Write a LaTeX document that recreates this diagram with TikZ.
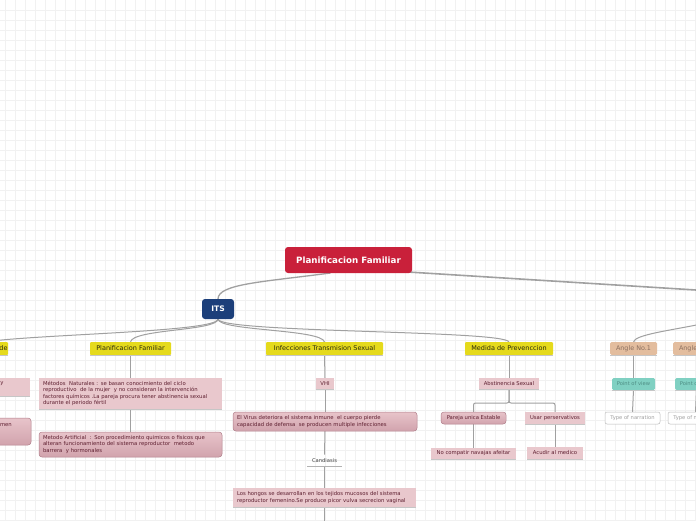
\documentclass[tikz,border=0pt]{standalone}
\usepackage{fontspec}
\setmainfont{DejaVu Sans}
\usetikzlibrary{calc}
\definecolor{gridc}{HTML}{F1F1F1}
\definecolor{rootred}{HTML}{C9203A}
\definecolor{itsblue}{HTML}{1C3F7A}
\definecolor{yelf}{HTML}{E5DA1C}
\definecolor{yelt}{HTML}{2A2A0C}
\definecolor{pinkf}{HTML}{E9C8CD}
\definecolor{pinkt}{HTML}{5E1F30}
\definecolor{dpinktop}{HTML}{E8C4CA}
\definecolor{dpinkbot}{HTML}{D1A3AD}
\definecolor{dpinkd}{HTML}{B07E8A}
\definecolor{tanf}{HTML}{E3BD9E}
\definecolor{tant}{HTML}{8C7060}
\definecolor{tealf}{HTML}{80D0C2}
\definecolor{tealt}{HTML}{4E8E84}
\definecolor{conncol}{HTML}{A0A0A0}
\pgfdeclarelayer{gridlayer}
\pgfdeclarelayer{linklayer}
\pgfsetlayers{gridlayer,linklayer,main}
\tikzset{
  box/.style={inner sep=0pt, outer sep=0pt},
  rootbox/.style={box, fill=rootred, rounded corners=3pt, text=white, font=\bfseries\fontsize{8.7}{10}\selectfont},
  itsbox/.style={box, fill=itsblue, rounded corners=3pt, text=white, font=\bfseries\fontsize{7.6}{8}\selectfont},
  ybox/.style={box, fill=yelf, rounded corners=1pt, text=yelt, font=\fontsize{6.5}{7}\selectfont},
  pbox/.style={box, fill=pinkf, text=pinkt, font=\fontsize{5.3}{6.3}\selectfont},
  dpbox/.style={box, top color=dpinktop, bottom color=dpinkbot, draw=dpinkd, line width=0.5pt, rounded corners=3pt, text=pinkt, font=\fontsize{5.3}{6.3}\selectfont},
  abox/.style={box, fill=tanf, rounded corners=1.5pt, text=tant, font=\fontsize{6.4}{7}\selectfont},
  tbox/.style={box, fill=tealf, rounded corners=1.5pt, text=tealt, font=\fontsize{5.2}{6}\selectfont},
  wbox/.style={box, fill=white, draw=gray!55, line width=0.5pt, rounded corners=2pt, text=gray!75, font=\fontsize{5.2}{6}\selectfont},
  plain/.style={box, text=black!75, font=\fontsize{5.2}{6}\selectfont},
  link/.style={draw=conncol, line width=1pt},
  shadowedge/.style={draw=gray!45, line width=0.6pt},
}
\begin{document}
\begin{tikzpicture}[x=1pt,y=-1pt]
\useasboundingbox (0,0) rectangle (696,520);
\clip (0,0) rectangle (696,520);
\begin{pgfonlayer}{gridlayer}
  \fill[white] (0,0) rectangle (696,520);
  \foreach \i in {0,...,69} \draw[gridc, line width=0.6pt] (5+\i*10,0) -- (5+\i*10,520);
  \foreach \j in {1,...,52} \draw[gridc, line width=0.6pt] (0,\j*10) -- (696,\j*10);
\end{pgfonlayer}

% main nodes
\node[rootbox, minimum width=127pt, minimum height=26pt] (root) at (348.5,260) {Planificacion Familiar};
\node[itsbox, minimum width=32pt, minimum height=20pt] (its) at (218,309) {ITS};
\coordinate (mainR) at (760,294);

% level 2
\node[ybox, minimum width=48pt, minimum height=13pt] (de) at (-16,348.5) {};
\node[ybox, anchor=east] (detext) at (7.5,348.5) {de};
\node[ybox, minimum width=81pt, minimum height=13pt] (pf) at (130.5,348.5) {Planificacion Familiar};
\node[ybox, minimum width=117pt, minimum height=13pt] (it) at (324.5,348.5) {Infecciones Transmision Sexual};
\node[ybox, minimum width=88pt, minimum height=13pt] (mp) at (509,348.5) {Medida de Prevenccion};
\node[abox, minimum width=47pt, minimum height=13pt] (a1) at (633.5,348.5) {Angle No.1};
\node[abox, minimum width=47pt, minimum height=13pt] (a2) at (696.5,348.5) {Angle No.2};

% left partial children
\node[pbox, minimum width=180pt, minimum height=18pt] (ly) at (-60,387) {};
\node[pbox, anchor=west] (lytext) at (0.5,383.5) {y};
\node[dpbox, minimum width=182pt, minimum height=27pt] (lm) at (-60,431.5) {};
\node[pbox, fill=none, anchor=west] (lmtext) at (0,425) {men};

% Planificacion Familiar children
\node[pbox, minimum width=183pt, minimum height=31pt, text width=175pt, align=left] (mn) at (130.5,393.5)
  {Métodos~ Naturales : se basan conocimiento del ciclo\\ reproductivo~ de la mujer~ y no consideran la intervención\\ factores químicos .La pareja procura tener abstinencia sexual\\ durante el periodo fértil};
\node[dpbox, minimum width=183pt, minimum height=25pt, text width=175pt, align=left] (ma) at (130.5,444.5)
  {Metodo Artificial~ : Son procedimiento quimicos o fisicos que\\ alteran funcionamiento del sistema reproductor~ metodo\\ barrera~ y hormonales};

% Infecciones children
\node[pbox, minimum width=18pt, minimum height=11pt] (vhi) at (325,383.5) {VHI};
\node[dpbox, minimum width=184pt, minimum height=19pt, text width=176pt, align=left] (ev) at (325,421.5)
  {El Virus deteriora el sistema inmune~ el cuerpo pierde\\ capacidad de defensa~ se producen multiple infecciones};
\node[plain, minimum width=35pt, minimum height=12pt] (cand) at (324.5,460.5) {Candiasis};
\node[pbox, minimum width=183pt, minimum height=19pt, text width=175pt, align=left] (lh) at (324.5,497.5)
  {Los hongos se desarrollan en los tejidos mucosos del sistema\\ reproductor femenino.Se produce picor vulva secrecion vaginal};
\coordinate (lhbelow) at (324.5,540);

% Medida children
\node[pbox, minimum width=60pt, minimum height=11pt] (as) at (509,383.5) {Abstinencia Sexual};
\node[dpbox, minimum width=65pt, minimum height=12pt] (pu) at (473.5,418) {Pareja unica Estable};
\node[pbox, minimum width=60pt, minimum height=12pt] (up) at (555,418) {Usar perservativos};
\node[pbox, minimum width=85pt, minimum height=11pt] (nc) at (473.5,453.5) {No compatir navajas afeitar};
\node[pbox, minimum width=56pt, minimum height=12pt] (am) at (555,453) {Acudir al medico};

% Angle children
\node[tbox, minimum width=43pt, minimum height=12pt] (pv) at (633.5,384) {Point of view};
\node[tbox, minimum width=43pt, minimum height=12pt] (pv2) at (696.5,384) {Point of view};
\node[wbox, minimum width=55pt, minimum height=12pt] (tn) at (632.5,418) {Type of narration};
\node[wbox, minimum width=55pt, minimum height=12pt] (tn2) at (695.5,418) {Type of narration};

% bottom edges
\foreach \n in {de,pf,it,mp,a1,a2,ly,mn,vhi,lh,as,up,nc,am,pv,pv2}
  \draw[shadowedge] (\n.south west) -- (\n.south east);
\draw[gray!60, line width=0.7pt] (cand.south west) -- (cand.south east);

\begin{pgfonlayer}{linklayer}
  % root connectors
  \draw[link, line width=1.3pt] ($(root.south)+(-18,0)$) .. controls (262,282) and (218,284) .. (its.north);
  \draw[link, line width=1.6pt] ($(root.south east)+(-4,-1)$) -- (mainR);
  % ITS to children
  \draw[link] (its.south) .. controls (218,332) and (40,334) .. (de.north);
  \draw[link] (its.south) .. controls (218,331) and (132,329) .. (pf.north);
  \draw[link] (its.south) .. controls (218,331) and (322,329) .. (it.north);
  \draw[link] (its.south) .. controls (218,333) and (505,330) .. (mp.north);
  % off-screen topic to angles
  \draw[link] (mainR) .. controls (760,326) and (636,328) .. (a1.north);
  \draw[link] (mainR) .. controls (760,326) and (699,330) .. (a2.north);
  % vertical chains
  \draw[link] (pf.south) -- (mn.north);
  \draw[link] (mn.south) -- (ma.north);
  \draw[link] (it.south) -- (vhi.north);
  \draw[link] (vhi.south) -- (ev.north);
  \draw[link] (ev.south) -- (cand.north);
  \draw[link] (cand.south) -- (lh.north);
  \draw[link] (lh.south) -- (lhbelow);
  \draw[link] (mp.south) -- (as.north);
  \draw[link, rounded corners=2pt] (as.south) -- ++(0,14) -| (pu.north);
  \draw[link, rounded corners=2pt] (as.south) -- ++(0,14) -| (up.north);
  \draw[link] (pu.south) -- (nc.north);
  \draw[link] (up.south) -- (am.north);
  \draw[link] (a1.south) -- (pv.north);
  \draw[link] (pv.south) -- (tn.north);
  \draw[link] (a2.south) -- (pv2.north);
  \draw[link] (pv2.south) -- (tn2.north);
\end{pgfonlayer}
\end{tikzpicture}
\end{document}
